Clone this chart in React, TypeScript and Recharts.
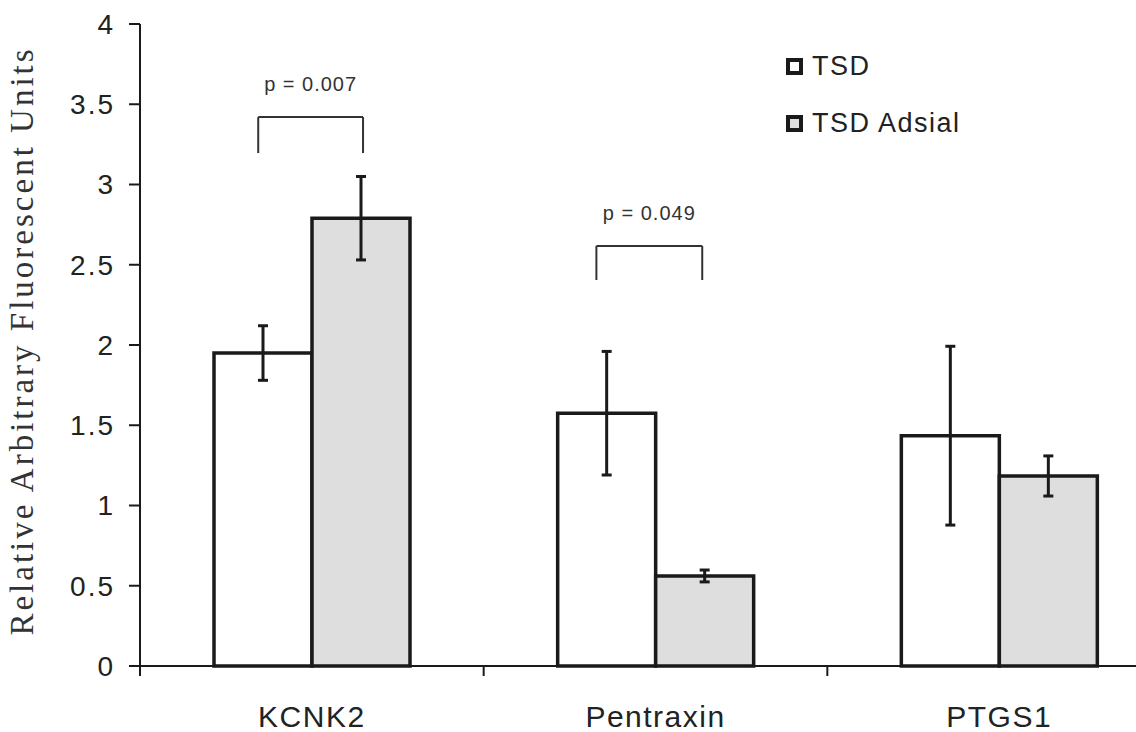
import React from 'react';
import {
  BarChart, Bar, XAxis, YAxis, ErrorBar, ReferenceLine, Label,
} from 'recharts';

const categories = ['KCNK2', 'Pentraxin', 'PTGS1'];
const tsd = [1.95, 1.575, 1.435];
const tsdErr = [0.17, 0.385, 0.557];
const adsial = [2.79, 0.561, 1.184];
const adsialErr = [0.26, 0.037, 0.125];
const yTicks = [0, 0.5, 1, 1.5, 2, 2.5, 3, 3.5, 4];

// significance brackets, x in category units (0..3)
const brackets = [
  { x1: 0.344, x2: 0.649, top: 3.42, bottom: 3.196, label: 'p = 0.007' },
  { x1: 1.328, x2: 1.636, top: 2.617, bottom: 2.405, label: 'p = 0.049' },
];

const series = [
  { key: 'tsd', name: 'TSD', fill: '#ffffff', err: 'tsdErr' },
  { key: 'adsial', name: 'TSD Adsial', fill: '#dedede', err: 'adsialErr' },
];

const data = categories.map((name, i) => ({
  name,
  slot: i + 0.5,
  tsd: tsd[i],
  tsdErr: tsdErr[i],
  adsial: adsial[i],
  adsialErr: adsialErr[i],
}));

const INK = '#1a1a1a';
const SANS = '"Liberation Sans", Arial, sans-serif';

function CategoryTick(props: any) {
  const { x, y, payload } = props;
  const half = payload?.offset ?? 0;
  return (
    <g>
      <line x1={x - half} x2={x - half} y1={y} y2={y + 10} stroke={INK} strokeWidth={2} />
      <text
        x={x}
        y={y + 61}
        textAnchor="middle"
        fill="#222"
        style={{ fontFamily: SANS, fontSize: 30, letterSpacing: 1.5 }}
      >
        {payload.value}
      </text>
    </g>
  );
}

function LegendBox() {
  return (
    <div style={{ position: 'absolute', left: 786, top: 38, fontFamily: SANS, fontSize: 27, color: '#222' }}>
      {series.map((s) => (
        <div key={s.key} style={{ display: 'flex', alignItems: 'center', height: 57 }}>
          <span
            style={{
              display: 'inline-block',
              width: 9,
              height: 9,
              border: `4px solid ${INK}`,
              background: s.fill,
              marginRight: 9,
            }}
          />
          <span style={{ letterSpacing: 1.5 }}>{s.name}</span>
        </div>
      ))}
    </div>
  );
}

export default function App() {
  return (
    <div style={{ position: 'fixed', left: 0, top: 0, width: 1136, height: 732, overflow: 'hidden', background: '#fff' }}>
      <BarChart
        width={1180}
        height={732}
        data={data}
        margin={{ top: 24, right: 9, left: 0, bottom: 0 }}
        barSize={98}
        barGap={0}
      >
        <XAxis
          dataKey="name"
          interval={0}
          axisLine={{ stroke: INK, strokeWidth: 2 }}
          tickLine={false}
          tickSize={0}
          tickMargin={0}
          height={66}
          tick={<CategoryTick />}
        />
        <XAxis xAxisId="num" dataKey="slot" type="number" domain={[0, 3]} allowDataOverflow hide />
        <YAxis
          domain={[0, 4]}
          ticks={yTicks}
          width={140}
          axisLine={{ stroke: INK, strokeWidth: 2 }}
          tickLine={{ stroke: INK, strokeWidth: 2 }}
          tickSize={11}
          tickMargin={14}
          tick={{ fill: '#222', fontSize: 28, fontFamily: SANS, letterSpacing: 2 }}
        >
          <Label
            content={(p: any) => {
              const vb = p.viewBox || { y: 24, height: 642 };
              const cx = 33;
              const cy = vb.y + vb.height / 2 - 4;
              return (
                <text
                  x={cx}
                  y={cy}
                  transform={`rotate(-90 ${cx} ${cy})`}
                  textAnchor="middle"
                  fill="#333"
                  style={{ fontFamily: '"Liberation Serif", "Times New Roman", serif', fontSize: 33, letterSpacing: 3 }}
                >
                  Relative Arbitrary Fluorescent Units
                </text>
              );
            }}
          />
        </YAxis>
        {series.map((s) => (
          <Bar
            key={s.key}
            dataKey={s.key}
            name={s.name}
            fill={s.fill}
            stroke={INK}
            strokeWidth={3.5}
            isAnimationActive={false}
          >
            <ErrorBar dataKey={s.err} width={5} stroke={INK} strokeWidth={3} />
          </Bar>
        ))}
        {brackets.map((b) => (
          <ReferenceLine
            key={b.label + 'h'}
            xAxisId="num"
            segment={[{ x: b.x1, y: b.top }, { x: b.x2, y: b.top }]}
            stroke="#333"
            strokeWidth={2}
            label={{
              value: b.label,
              position: 'top',
              offset: 26,
              fill: '#333',
              fontSize: 20,
              fontFamily: SANS,
              letterSpacing: 1,
            }}
          />
        ))}
        {brackets.map((b) => (
          <ReferenceLine
            key={b.label + 'l'}
            xAxisId="num"
            segment={[{ x: b.x1, y: b.top }, { x: b.x1, y: b.bottom }]}
            stroke="#333"
            strokeWidth={2}
          />
        ))}
        {brackets.map((b) => (
          <ReferenceLine
            key={b.label + 'r'}
            xAxisId="num"
            segment={[{ x: b.x2, y: b.top }, { x: b.x2, y: b.bottom }]}
            stroke="#333"
            strokeWidth={2}
          />
        ))}
      </BarChart>
      <LegendBox />
    </div>
  );
}
